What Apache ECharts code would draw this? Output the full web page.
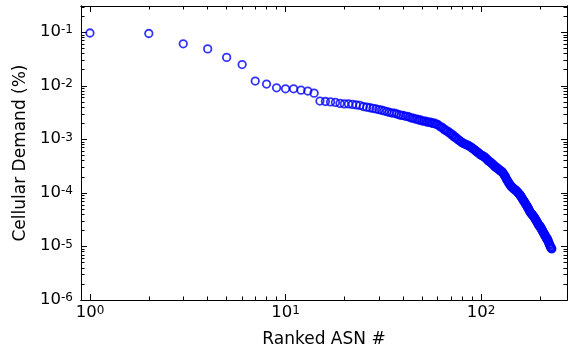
<!DOCTYPE html>
<html>
<head>
<meta charset="utf-8">
<script src="https://cdn.jsdelivr.net/npm/echarts@6/dist/echarts.min.js"></script>
<style>
  html, body { margin: 0; padding: 0; background: #fff; }
  #chart { width: 568px; height: 349px; }
</style>
</head>
<body>
<div id="chart"></div>
<script>
// rank 1..N, demand share (%)
var demand = [
  0.097, 0.095, 0.061, 0.049, 0.034, 0.025, 0.0123, 0.0108, 0.0092, 0.0088,
  0.0088, 0.0083, 0.0080, 0.0073, 0.0052, 0.0051, 0.0050, 0.0049, 0.0047, 0.0046,
  0.0046, 0.0045, 0.0044, 0.0043, 0.0041, 0.0040, 0.0039, 0.0038, 0.0037, 0.0036,
  0.0035, 0.0034, 0.0033, 0.0032, 0.0031, 0.0031, 0.0030, 0.0029, 0.0028, 0.0028,
  0.0027, 0.0027, 0.0026, 0.0025, 0.0025, 0.0024, 0.0024, 0.0023, 0.0023, 0.0022,
  0.0022, 0.0022, 0.0021, 0.0021, 0.0021, 0.0020, 0.0020, 0.0020, 0.0019, 0.0019,
  0.0018, 0.0017, 0.0017, 0.0016, 0.0015, 0.0015, 0.0014, 0.0014, 0.0013, 0.0013,
  0.0012, 0.0012, 0.0011, 0.0011, 0.00105, 0.0010, 0.00097, 0.00093, 0.00090, 0.00087,
  0.00085, 0.00083, 0.00081, 0.00080, 0.00078, 0.00077, 0.00075, 0.00073, 0.00071, 0.00069,
  0.00067, 0.00065, 0.00063, 0.00061, 0.00059, 0.00057, 0.00056, 0.00054, 0.00052, 0.00051,
  0.00050, 0.00049, 0.00048, 0.00047, 0.00046, 0.00044, 0.00043, 0.00041, 0.00040, 0.00039,
  0.00038, 0.00037, 0.00036, 0.00035, 0.00034, 0.00033, 0.00032, 0.00031, 0.00030, 0.00030,
  0.00029, 0.00028, 0.00028, 0.00027, 0.00026, 0.00026, 0.00025, 0.00025, 0.00024, 0.00023,
  0.00022, 0.00021, 0.000205, 0.00019, 0.00018, 0.000172, 0.000165, 0.000158, 0.000150, 0.000145,
  0.000140, 0.000135, 0.000131, 0.000128, 0.000125, 0.000122, 0.000119, 0.000117, 0.000115, 0.000113,
  0.000110, 0.000108, 0.000105, 0.000103, 0.000100, 0.000097, 0.000094, 0.000092, 0.000089, 0.000086,
  0.000083, 0.000080, 0.000077, 0.000074, 0.000072, 0.000069, 0.000067, 0.000065, 0.000062, 0.000060,
  0.000058, 0.000056, 0.000054, 0.000052, 0.000050, 0.000048, 0.000046, 0.000044, 0.000043, 0.000042,
  0.000041, 0.000040, 0.000039, 0.000038, 0.000037, 0.000036, 0.000035, 0.000034, 0.000033, 0.000032,
  0.000031, 0.000030, 0.000029, 0.000028, 0.000027, 0.000026, 0.000025, 0.000025, 0.000024, 0.000024,
  0.000023, 0.000022, 0.000022, 0.000021, 0.000020, 0.000020, 0.000019, 0.000018, 0.000018, 0.000017,
  0.000017, 0.000016, 0.000016, 0.000015, 0.000015, 0.000014, 0.000014, 0.000014, 0.000013, 0.000013,
  0.000012, 0.000012, 0.000011, 0.000011, 0.0000105, 0.0000100, 0.0000097, 0.0000094, 0.0000092, 0.0000090
];

// axis ranges (data units) and decade ticks
var xRange = [0.9, 275];
var yRange = [1e-6, 0.31];
var xDecades = [0, 1, 2];
var yDecades = [-6, -5, -4, -3, -2, -1];

var log = Math.log10;

function minorTicks(decades, lo, hi) {
  var out = [];
  decades.concat([decades[decades.length - 1] + 1]).forEach(function (d) {
    for (var k = 2; k <= 9; k++) {
      var v = log(k) + d;
      if (v > lo + 0.005 && v < hi - 0.005) out.push(v);
    }
  });
  return out;
}

var xMin = log(xRange[0]), xMax = log(xRange[1]);
var yMin = log(yRange[0]), yMax = log(yRange[1]);
var xMinor = minorTicks([-1].concat(xDecades), xMin, xMax);
var yMinor = minorTicks(yDecades, yMin, yMax);

var points = demand.map(function (v, i) { return [log(i + 1), log(v)]; });

var FONT = 'DejaVu Sans';
var rich = {
  b: { fontFamily: FONT, fontSize: 16.5, lineHeight: 16, color: '#000', verticalAlign: 'bottom' },
  s: { fontFamily: FONT, fontSize: 12, lineHeight: 12, color: '#000', verticalAlign: 'top', padding: [0, 0, 5, 0] }
};
function powLabel(v) {
  return '{b|10}{s|' + Math.round(v) + '}';
}

var lineStyle = { color: '#000', width: 1 };

function xAxis(pos, major) {
  return {
    type: 'value', position: pos, min: xMin, max: xMax,
    axisLine: { show: true, onZero: false, lineStyle: lineStyle },
    splitLine: { show: false },
    axisTick: { show: true, inside: true, length: major ? 6 : 3.5, lineStyle: lineStyle,
                customValues: major ? xDecades : xMinor },
    axisLabel: { show: major && pos === 'bottom', customValues: xDecades, margin: 5,
                 formatter: powLabel, rich: rich }
  };
}
function yAxis(pos, major) {
  return {
    type: 'value', position: pos, min: yMin, max: yMax,
    axisLine: { show: true, onZero: false, lineStyle: lineStyle },
    splitLine: { show: false },
    axisTick: { show: true, inside: true, length: major ? 6 : 3.5, lineStyle: lineStyle,
                customValues: major ? yDecades : yMinor },
    axisLabel: { show: major && pos === 'left', customValues: yDecades, margin: 8,
                 formatter: powLabel, rich: rich }
  };
}

var xAxes = [xAxis('bottom', true), xAxis('bottom', false), xAxis('top', true), xAxis('top', false)];
xAxes[0].name = 'Ranked ASN #';
xAxes[0].nameLocation = 'middle';
xAxes[0].nameGap = 31;
xAxes[0].nameTextStyle = { fontFamily: FONT, fontSize: 17, color: '#000' };

var yAxes = [yAxis('left', true), yAxis('left', false), yAxis('right', true), yAxis('right', false)];
yAxes[0].name = 'Cellular Demand (%)';
yAxes[0].nameLocation = 'middle';
yAxes[0].nameGap = 51;
yAxes[0].nameTextStyle = { fontFamily: FONT, fontSize: 17, color: '#000' };

var chart = echarts.init(document.getElementById('chart'), null, { renderer: 'canvas' });
chart.setOption({
  animation: false,
  backgroundColor: '#fff',
  grid: { left: 81, right: 1, top: 6, bottom: 49, outerBoundsMode: 'none', containLabel: false },
  xAxis: xAxes,
  yAxis: yAxes,
  series: [{
    type: 'scatter',
    xAxisIndex: 0,
    yAxisIndex: 0,
    data: points,
    symbol: 'circle',
    symbolSize: 7.5,
    itemStyle: { color: 'rgba(0,0,0,0)', borderColor: '#0000ff', borderWidth: 1.8 }
  }]
});
</script>
</body>
</html>
